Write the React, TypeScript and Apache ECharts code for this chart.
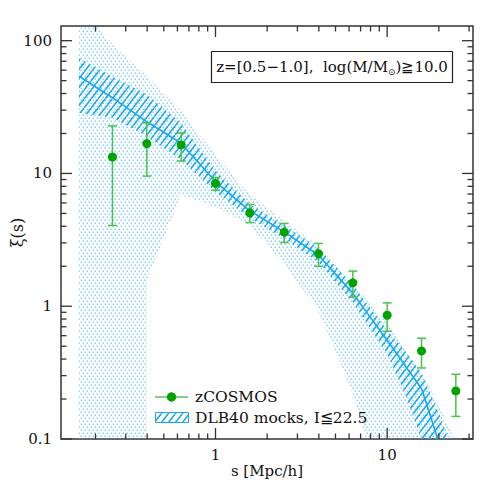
import React, { useEffect, useRef } from 'react';
import * as echarts from 'echarts';

// ---- measured data (zCOSMOS) ----
const sData = [0.251, 0.398, 0.631, 1.0, 1.585, 2.512, 3.981, 6.31, 10.0, 15.85, 25.12];
const xiData = [13.3, 16.8, 16.4, 8.41, 5.05, 3.61, 2.48, 1.5, 0.855, 0.461, 0.23];
const xiErrHi = [22.8, 24.1, 20.2, 9.33, 5.84, 4.2, 2.97, 1.84, 1.06, 0.574, 0.307];
const xiErrLo = [4.06, 9.55, 12.4, 7.48, 4.27, 3.02, 2.0, 1.17, 0.648, 0.343, 0.148];

// ---- mock catalogues (DLB40) ----
const sMock = [0.16, 0.251, 0.398, 0.631, 1.0, 1.585, 2.512, 3.981, 6.31, 10.0, 12.59, 15.85, 19.95, 25.12];
const xiMockMean = [54.1, 37.2, 24.5, 16.9, 8.65, 5.22, 3.63, 2.42, 1.25, 0.555, 0.363, 0.24, 0.0955, 0.0355];
const xiMockInnerHi = [74.1, 53.7, 39.4, 24.0, 10.5, 5.89, 4.07, 2.75, 1.45, 0.66, 0.468, 0.316, 0.158, 0.071];
const xiMockInnerLo = [28.6, 26.3, 19.1, 12.7, 7.24, 4.62, 3.24, 2.14, 1.07, 0.436, 0.224, 0.1, 0.05, 0.016];
const xiMockOuterHi = [178, 94.2, 54.1, 29.5, 13.8, 6.9, 4.45, 2.8, 1.48, 0.745, 0.49, 0.313, 0.182, 0.095];
const sMockOuterLo = [0.16, 0.398, 0.398, 0.631, 1.0, 1.585, 2.512, 3.981, 6.31, 10.0];
const xiMockOuterLo = [0.03, 0.03, 1.57, 6.9, 5.6, 4.07, 2.09, 0.93, 0.22, 0.03];

// ---- axes ----
const xRange = [0.1259, 31.62];
const yRange = [0.1, 129];
const xMajorTicks = [1, 10];
const xTickLabels = ['1', '10'];
const yMajorTicks = [0.1, 1, 10, 100];
const yTickLabels = ['0.1', '1', '10', '100'];
const minorMultipliers = [2, 3, 4, 5, 6, 7, 8, 9];
const decades = [0.1, 1, 10, 100];

const FONT = '"DejaVu Serif", "Liberation Serif", serif';
const BLUE = '#1aa8ee';
const DOT = '#45b9f7';
const L = (v: number) => Math.log10(v);

function minorTicks(range: number[]) {
  const out: number[] = [];
  decades.forEach((d) =>
    minorMultipliers.forEach((k) => {
      const v = k * d;
      if (v > range[0] && v < range[1]) out.push(v);
    })
  );
  return out;
}

function svgPattern(w: number, h: number, body: string) {
  const svg = `<svg xmlns="http://www.w3.org/2000/svg" width="${w}" height="${h}" viewBox="0 0 ${w} ${h}">${body}</svg>`;
  return { image: 'data:image/svg+xml;charset=utf-8,' + encodeURIComponent(svg), repeat: 'repeat', imageWidth: w, imageHeight: h } as any;
}

function makeHatch() {
  const w = 7, h = 9;
  let body = '';
  for (let k = 0; k <= 2; k++) {
    body += `<line x1="${w * k}" y1="0" x2="${w * (k - 1)}" y2="${h}" stroke="${BLUE}" stroke-width="1.6"/>`;
  }
  return svgPattern(w, h, body);
}

function makeDots() {
  const w = 4, h = 6;
  const body = `<rect x="0.6" y="3.6" width="1.2" height="1.2" fill="${DOT}"/><rect x="2.6" y="0.6" width="1.2" height="1.2" fill="${DOT}"/>`;
  return svgPattern(w, h, body);
}

function labelFor(v: number, ticks: number[], labels: string[]) {
  for (let i = 0; i < ticks.length; i++) {
    if (Math.abs(L(ticks[i]) - v) < 1e-6) return labels[i];
  }
  return '';
}

export default function App() {
  const ref = useRef<HTMLDivElement>(null);
  useEffect(() => {
    const chart = echarts.init(ref.current!, null, { renderer: 'svg' });
    const hatch = makeHatch();
    const dots = makeDots();

    const bandItem = (xsU: number[], ysU: number[], xsL: number[], ysL: number[], fill: any) =>
      (params: any, api: any) => {
        if (params.dataIndex !== 0) return null;
        const pts: number[][] = [];
        xsU.forEach((s, i) => pts.push(api.coord([L(s), L(ysU[i])])));
        for (let i = xsL.length - 1; i >= 0; i--) pts.push(api.coord([L(xsL[i]), L(ysL[i])]));
        return { type: 'polygon', shape: { points: pts }, style: { fill, stroke: null } };
      };

    const xMinor = minorTicks(xRange);
    const yMinor = minorTicks(yRange);
    const MAJ = 11, MIN = 5.5;

    const option: any = {
      animation: false,
      backgroundColor: '#fff',
      grid: {
        left: 61, right: 18, top: 26, bottom: 52, containLabel: false, outerBoundsMode: 'none',
        show: true, borderColor: '#333', borderWidth: 1.5, backgroundColor: 'transparent',
      },
      xAxis: {
        type: 'value', min: L(xRange[0]), max: L(xRange[1]), interval: 0.1,
        axisLine: { show: false }, axisTick: { show: false }, splitLine: { show: false },
        axisLabel: { formatter: (v: number) => labelFor(v, xMajorTicks, xTickLabels), color: '#111', fontFamily: FONT, fontSize: 15, margin: 8 },
        name: 's [Mpc/h]', nameLocation: 'middle', nameGap: 24, nameMoveOverlap: false,
        nameTextStyle: { color: '#111', fontFamily: FONT, fontSize: 15 },
      },
      yAxis: {
        type: 'value', min: L(yRange[0]), max: L(yRange[1]), interval: 1,
        axisLine: { show: false }, axisTick: { show: false }, splitLine: { show: false },
        axisLabel: { formatter: (v: number) => labelFor(v, yMajorTicks, yTickLabels), color: '#111', fontFamily: FONT, fontSize: 15, margin: 9 },
        name: 'ξ(s)', nameLocation: 'middle', nameGap: 36, nameMoveOverlap: false,
        nameTextStyle: { color: '#111', fontFamily: FONT, fontSize: 16 },
      },
      series: [
        {
          type: 'custom', clip: true, silent: true, z: 1,
          data: [[L(sMock[0]), L(xiMockMean[0])]],
          renderItem: bandItem(sMock, xiMockOuterHi, sMockOuterLo, xiMockOuterLo, dots),
        },
        {
          type: 'custom', clip: true, silent: true, z: 2,
          data: [[L(sMock[0]), L(xiMockMean[0])]],
          renderItem: bandItem(sMock, xiMockInnerHi, sMock, xiMockInnerLo, hatch),
        },
        {
          type: 'line', z: 3, showSymbol: false, symbol: 'none', clip: true,
          data: sMock.map((s, i) => [L(s), L(xiMockMean[i])]),
          lineStyle: { color: BLUE, width: 1.6 },
        },
        {
          type: 'custom', z: 4, clip: true,
          data: sData.map((s, i) => [L(s), L(xiErrLo[i]), L(xiErrHi[i])]),
          encode: { x: 0, y: [1, 2] },
          renderItem: (params: any, api: any) => {
            const lo = api.coord([api.value(0), api.value(1)]);
            const hi = api.coord([api.value(0), api.value(2)]);
            const cw = 4.5;
            const st = { stroke: '#4cc24c', lineWidth: 1.5 };
            return {
              type: 'group',
              children: [
                { type: 'line', shape: { x1: lo[0], y1: lo[1], x2: hi[0], y2: hi[1] }, style: st },
                { type: 'line', shape: { x1: lo[0] - cw, y1: lo[1], x2: lo[0] + cw, y2: lo[1] }, style: st },
                { type: 'line', shape: { x1: hi[0] - cw, y1: hi[1], x2: hi[0] + cw, y2: hi[1] }, style: st },
              ],
            };
          },
        },
        {
          type: 'scatter', z: 5, symbol: 'circle', symbolSize: 9,
          data: sData.map((s, i) => [L(s), L(xiData[i])]),
          itemStyle: { color: '#00a300', opacity: 1 },
        },
        {
          type: 'custom', z: 6, silent: true,
          data: [[L(xRange[0]), L(yRange[0])]],
          renderItem: (params: any, api: any) => {
            const cs = params.coordSys;
            const x0 = cs.x, y0 = cs.y, x1 = cs.x + cs.width, y1 = cs.y + cs.height;
            const st = { stroke: '#333', lineWidth: 1.3 };
            const ch: any[] = [];
            const addX = (v: number, len: number) => {
              const px = api.coord([L(v), L(yRange[0])])[0];
              ch.push({ type: 'line', shape: { x1: px, y1: y1, x2: px, y2: y1 - len }, style: st });
              ch.push({ type: 'line', shape: { x1: px, y1: y0, x2: px, y2: y0 + len }, style: st });
            };
            const addY = (v: number, len: number) => {
              const py = api.coord([L(xRange[0]), L(v)])[1];
              ch.push({ type: 'line', shape: { x1: x0, y1: py, x2: x0 + len, y2: py }, style: st });
              ch.push({ type: 'line', shape: { x1: x1, y1: py, x2: x1 - len, y2: py }, style: st });
            };
            xMajorTicks.forEach((v) => addX(v, MAJ));
            xMinor.forEach((v) => addX(v, MIN));
            yMajorTicks.forEach((v) => addY(v, MAJ));
            yMinor.forEach((v) => addY(v, MIN));
            return { type: 'group', children: ch };
          },
        },
      ],
      graphic: [
        { type: 'rect', shape: { x: 211.5, y: 51.5, width: 241, height: 31 }, style: { fill: '#fff', stroke: '#222', lineWidth: 1.2 }, z: 10 },
        {
          type: 'text', x: 332, y: 67, z: 11,
          style: {
            text: '{a|z=[0.5−1.0],  log(M/M}{s|⊙}{a|)≧10.0}',
            align: 'center', verticalAlign: 'middle',
            rich: {
              a: { fontFamily: FONT, fontSize: 15, fill: '#111' },
              s: { fontFamily: FONT, fontSize: 9, fill: '#111', padding: [9, 0, 0, 0] },
            },
          },
        },
        { type: 'line', shape: { x1: 155, y1: 397, x2: 188, y2: 397 }, style: { stroke: '#11a011', lineWidth: 1.2 }, z: 10 },
        { type: 'circle', shape: { cx: 171.5, cy: 397, r: 4.7 }, style: { fill: '#00a300' }, z: 11 },
        { type: 'text', x: 195, y: 397, z: 11, style: { text: 'zCOSMOS', fontFamily: FONT, fontSize: 15.5, fill: '#111', verticalAlign: 'middle' } },
        { type: 'rect', shape: { x: 155.5, y: 412.5, width: 33, height: 10 }, style: { fill: hatch, stroke: BLUE, lineWidth: 1 }, z: 10 },
        { type: 'text', x: 195, y: 418, z: 11, style: { text: 'DLB40 mocks, I≦22.5', fontFamily: FONT, fontSize: 15.5, fill: '#111', verticalAlign: 'middle' } },
      ],
    };
    chart.setOption(option);
    return () => chart.dispose();
  }, []);
  return <div ref={ref} style={{ position: 'fixed', left: 0, top: 0, width: 491, height: 491, background: '#fff' }} />;
}
